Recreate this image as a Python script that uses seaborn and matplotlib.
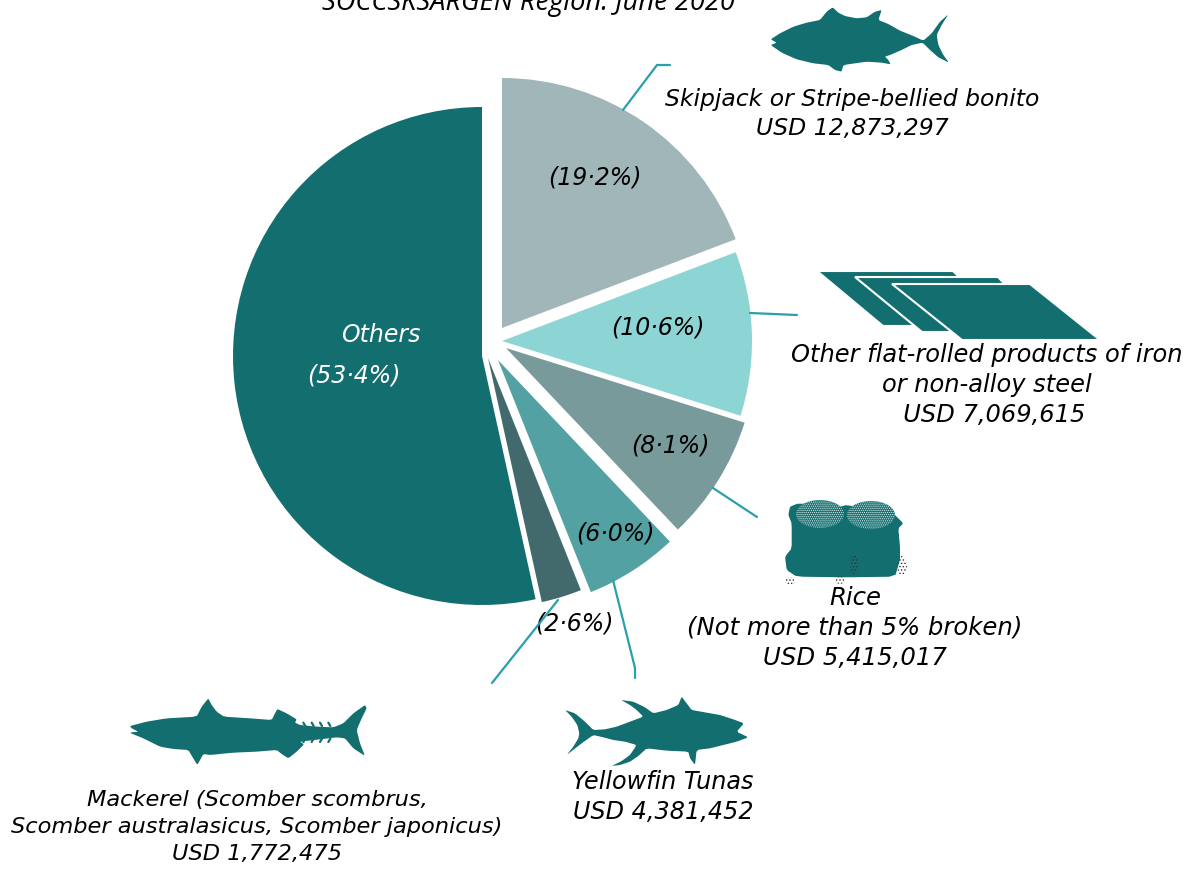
# Pie of exports with icons and callouts
import matplotlib
matplotlib.use("Agg")
import matplotlib.pyplot as plt
import seaborn as sns
from matplotlib.patches import Polygon, Ellipse

sns.set_theme(style="white")
plt.rcParams['font.family'] = ['DejaVu Sans']
plt.rcParams['hatch.linewidth'] = 0.6

W, H = 1199, 871

# data, counter clockwise from the top
products = ["Others", "Mackerel", "Yellowfin Tunas", "Rice", "Other flat-rolled", "Skipjack"]
shares = [53.4, 2.6, 6.0, 8.1, 10.6, 19.2]
share_labels = ["(53·4%)", "(2·6%)", "(6·0%)", "(8·1%)", "(10·6%)", "(19·2%)"]
slice_colors = ["#136f6f", "#426a6d", "#53a1a3", "#799a9b", "#8dd5d4", "#a0b6b8"]
title_text = "SOCCSKSARGEN Region: June 2020"
skipjack_text = "Skipjack or Stripe-bellied bonito\nUSD 12,873,297"
steel_text = "Other flat-rolled products of iron\nor non-alloy steel\n  USD 7,069,615"
rice_text = "Rice\n(Not more than 5% broken)\nUSD 5,415,017"
yellowfin_text = "Yellowfin Tunas\nUSD 4,381,452"
mackerel_text = "Mackerel (Scomber scombrus,\nScomber australasicus, Scomber japonicus)\nUSD 1,772,475"

TEAL = "#136f6f"
LINE = "#2a9fae"


def Y(y):
    return H - y


def pts(seq, ox=0, oy=0, s=1.0):
    return [(ox + x * s, Y(oy + y * s)) for x, y in seq]


def smooth(seq, n=1, f=0.12):
    # corner cutting so the outlines are not so angular
    for _ in range(n):
        out = []
        for i in range(len(seq)):
            x0, y0 = seq[i]
            x1, y1 = seq[(i + 1) % len(seq)]
            out.append(((1 - f) * x0 + f * x1, (1 - f) * y0 + f * y1))
            out.append((f * x0 + (1 - f) * x1, f * y0 + (1 - f) * y1))
        seq = out
    return seq


def hand_text(x, y, txt, size, color="black"):
    ax.text(x, Y(y), txt, family="DejaVu Sans", style="italic", fontsize=size, color=color,
            ha="center", va="center", linespacing=30 / (0.93 * size * 100 / 72))


fig = plt.figure(figsize=(W / 100, H / 100), dpi=100)
ax = fig.add_axes([0, 0, 1, 1])

wedges, _ = ax.pie(shares, colors=sns.color_palette(slice_colors), startangle=90,
                   radius=250, center=(482, Y(356)), frame=True)
ax.set_xlim(0, W)
ax.set_ylim(0, H)
ax.set_aspect("equal")
ax.axis("off")

# each slice is pulled out by its own amount
tips = [(482, 356), (488, 358), (498, 360), (506, 348), (502, 341), (502, 328)]
for w, (tx, ty) in zip(wedges, tips):
    w.set_center((tx, Y(ty)))
    w.set_linewidth(0)
wedges[0].set_radius(249)

# share labels
label_pos = [(354, 376), (574, 624), (615, 533), (670, 446), (658, 327), (595, 178)]
for txt, (x, y), c in zip(share_labels, label_pos, ["white"] + ["black"] * 5):
    hand_text(x, y, txt, 17, c)
hand_text(381, 335, products[0], 17, "white")

# title is cut by the top edge
ax.text(528.5, Y(3), title_text, family="Open Sans", style="italic", fontsize=19.6,
        color="black", ha="center", va="center")

# callouts
hand_text(852, 114, skipjack_text, 16.9)
hand_text(987, 385, steel_text, 17.4)
hand_text(855, 628, rice_text, 17.6)
hand_text(663, 797, yellowfin_text, 17.2)
hand_text(257, 827, mackerel_text, 16.2)

# leader lines
leaders = [
    [(623, 110), (657, 65), (670, 65)],
    [(750, 313), (797, 315)],
    [(713, 488), (757, 517)],
    [(613, 580), (635, 668), (635, 678)],
    [(558, 600), (492, 683)],
]
for seg in leaders:
    ax.plot([p[0] for p in seg], [Y(p[1]) for p in seg], color=LINE, lw=1.6, zorder=4)

skipjack = [(872, 118), (900, 100), (940, 80), (980, 68), (1020, 60), (1040, 35), (1058, 22), (1075, 38),
            (1095, 48), (1130, 55), (1160, 52), (1185, 35), (1205, 30), (1195, 60), (1225, 72), (1260, 92),
            (1300, 108), (1330, 122), (1355, 100), (1380, 65), (1405, 43), (1385, 75), (1370, 105),
            (1375, 135), (1390, 165), (1407, 188), (1375, 172), (1350, 150), (1328, 128), (1295, 135),
            (1265, 150), (1230, 165), (1215, 170), (1225, 180), (1232, 193), (1205, 188), (1160, 185),
            (1090, 195), (1085, 215), (1065, 210), (1045, 195), (1000, 190), (950, 178), (905, 158),
            (872, 135), (890, 128)]
ax.add_patch(Polygon(pts(smooth(skipjack), 480, 0, 1 / 3), fc=TEAL, ec="none", zorder=5))

mackerel = [(90, 138), (140, 125), (200, 115), (290, 110), (305, 80), (325, 55), (335, 75), (350, 95),
            (372, 110), (450, 115), (515, 120), (525, 100), (532, 87), (560, 100), (590, 118), (585, 128),
            (600, 135), (650, 140), (700, 142), (730, 130), (760, 100), (795, 75), (800, 85), (785, 115),
            (770, 150), (780, 190), (795, 228), (760, 205), (735, 175), (710, 172), (660, 178), (600, 185),
            (612, 193), (590, 215), (565, 235), (545, 222), (530, 210), (470, 215), (400, 218), (330, 225),
            (310, 222), (292, 255), (278, 232), (265, 210), (220, 207), (180, 200), (130, 175), (88, 158),
            (115, 155), (95, 145)]
ax.add_patch(Polygon(pts(smooth(mackerel), 100, 680, 1 / 3), fc=TEAL, ec="none", zorder=5))
for mx in [610, 635, 660, 685]:
    ax.plot([100 + mx / 3, 100 + (mx + 6) / 3], [Y(680 + 128 / 3), Y(680 + 138 / 3)], color=TEAL, lw=1.6, zorder=5)
    ax.plot([100 + mx / 3, 100 + (mx + 6) / 3], [Y(680 + 186 / 3), Y(680 + 176 / 3)], color=TEAL, lw=1.6, zorder=5)

yellowfin = [(45, 90), (75, 100), (105, 125), (130, 150), (165, 148), (200, 140), (240, 125), (280, 110),
             (260, 90), (240, 75), (213, 60), (250, 65), (285, 82), (310, 100), (350, 90), (385, 75), (395, 50),
             (410, 70), (425, 90), (470, 98), (510, 105), (550, 118), (582, 130), (560, 155), (595, 172),
             (560, 185), (520, 195), (480, 205), (440, 210), (435, 255), (420, 235), (415, 215), (350, 212),
             (290, 205), (265, 228), (240, 245), (210, 255), (185, 258), (215, 243), (240, 225), (260, 195),
             (225, 185), (190, 180), (160, 172), (130, 165), (95, 190), (50, 225), (70, 200), (85, 175),
             (88, 160), (82, 135), (65, 110)]
ax.add_patch(Polygon(pts(smooth(yellowfin), 550, 680, 1 / 3), fc=TEAL, ec="none", zorder=5))

plates = [
    [(817, 271), (953, 271), (1010, 326), (883, 326)],
    [(855, 277), (998, 277), (1050, 332), (922, 332)],
    [(892, 284), (1030, 284), (1100, 340), (962, 340)],
]
for i, p in enumerate(plates):
    ax.add_patch(Polygon(pts(p), fc=TEAL, ec="white", lw=1.5, zorder=5 + i * 0.1))

sack = [(930, 320), (955, 310), (1080, 320), (1100, 315), (1240, 340), (1270, 370), (1255, 385), (1260, 440),
        (1260, 480), (1245, 530), (1100, 532), (950, 530), (920, 510), (915, 470), (935, 445), (935, 370),
        (925, 345)]
ax.add_patch(Polygon(pts(smooth(sack), 480, 400, 1 / 3), fc=TEAL, ec="none", zorder=5))
for cx, cy in [(820, 514), (871, 515)]:
    ax.add_patch(Ellipse((cx, Y(cy)), 48, 28, fc=TEAL, ec="#d8ecec", hatch="........", lw=0, zorder=6))
for x0, y0, w0, h0 in [(785, 577, 10, 8), (835, 576, 10, 8), (850, 555, 8, 20), (897, 556, 10, 20)]:
    ax.add_patch(Ellipse((x0 + w0 / 2, Y(y0 + h0 / 2)), w0, h0, fc="none", ec="#333333", hatch=".....", lw=0, zorder=6))

fig.savefig("out.png", dpi=100)
